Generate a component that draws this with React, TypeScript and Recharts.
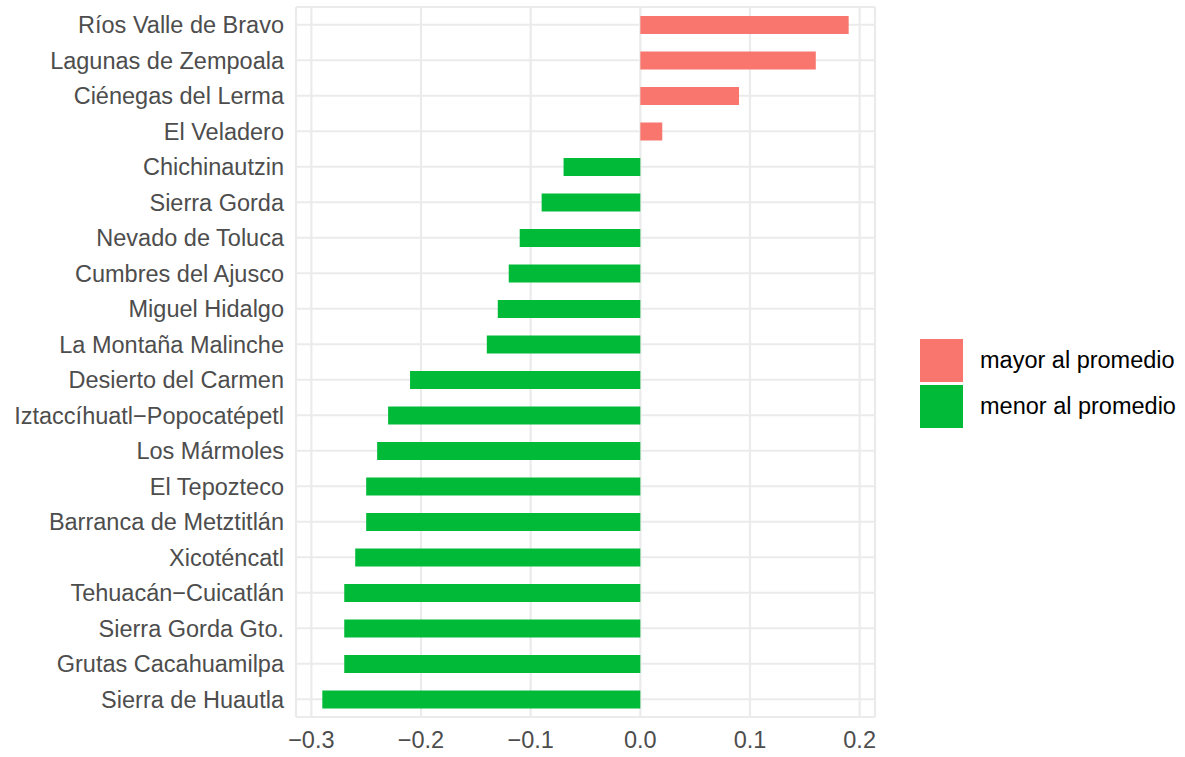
import React from 'react';
import {
  BarChart,
  Bar,
  Cell,
  XAxis,
  YAxis,
  CartesianGrid,
} from 'recharts';

// areas protegidas, ordered top to bottom as drawn
const areas = [
  'Ríos Valle de Bravo',
  'Lagunas de Zempoala',
  'Ciénegas del Lerma',
  'El Veladero',
  'Chichinautzin',
  'Sierra Gorda',
  'Nevado de Toluca',
  'Cumbres del Ajusco',
  'Miguel Hidalgo',
  'La Montaña Malinche',
  'Desierto del Carmen',
  'Iztaccíhuatl−Popocatépetl',
  'Los Mármoles',
  'El Tepozteco',
  'Barranca de Metztitlán',
  'Xicoténcatl',
  'Tehuacán−Cuicatlán',
  'Sierra Gorda Gto.',
  'Grutas Cacahuamilpa',
  'Sierra de Huautla',
];

const diffs = [
  0.19, 0.16, 0.09, 0.02, -0.07, -0.09, -0.11, -0.12, -0.13, -0.14,
  -0.21, -0.23, -0.24, -0.25, -0.25, -0.26, -0.27, -0.27, -0.27, -0.29,
];

const majorTicks = [-0.3, -0.2, -0.1, 0, 0.1, 0.2];
const minorTicks = [-0.25, -0.15, -0.05, 0.05, 0.15];

const groups = ['mayor al promedio', 'menor al promedio'];
const groupColors = ['#F8766D', '#00BA38'];

const data = areas.map((area, i) => ({ area, value: diffs[i] }));

const FONT = '"Liberation Sans", Arial, sans-serif';
const FS = 23.5;

const fmt = (v: number) => {
  const s = Math.abs(v).toFixed(1);
  return v < 0 ? `\u2212${s}` : s;
};

const LegendBox = () => (
  <div
    style={{
      position: 'absolute',
      left: 920,
      top: 339,
      fontFamily: FONT,
      fontSize: FS,
      color: '#000',
    }}
  >
    {groups.map((g, i) => (
      <div
        key={g}
        style={{ display: 'flex', alignItems: 'center', height: 43, marginBottom: i === 0 ? 3 : 0 }}
      >
        <div style={{ width: 43, height: 43, background: groupColors[i] }} />
        <span style={{ marginLeft: 17, whiteSpace: 'nowrap' }}>{g}</span>
      </div>
    ))}
  </div>
);

export default function App() {
  return (
    <div style={{ position: 'absolute', left: 0, top: 0, width: 1185, height: 757, background: '#fff' }}>
      <BarChart
        width={1185}
        height={757}
        data={data}
        layout="vertical"
        margin={{ top: 7, right: 310, bottom: 0, left: 0 }}
        barCategoryGap={0}
      >
        <CartesianGrid xAxisId="minor" horizontal={false} stroke="#EBEBEB" strokeWidth={1.1} />
        <CartesianGrid stroke="#EBEBEB" strokeWidth={2.2} />
        <XAxis
          xAxisId="minor"
          type="number"
          domain={[-0.314, 0.214]}
          ticks={minorTicks}
          hide
        />
        <XAxis
          type="number"
          domain={[-0.314, 0.214]}
          ticks={majorTicks}
          tickFormatter={fmt}
          axisLine={false}
          tickLine={false}
          tickSize={0}
          tickMargin={14}
          height={40}
          tick={{ fontFamily: FONT, fontSize: FS, fill: '#4D4D4D' }}
          allowDataOverflow
        />
        <YAxis
          type="category"
          dataKey="area"
          width={296}
          axisLine={false}
          tickLine={false}
          tickSize={0}
          tickMargin={12}
          interval={0}
          tick={{ fontFamily: FONT, fontSize: FS, fill: '#4D4D4D' }}
        />
        <Bar dataKey="value" barSize={18} isAnimationActive={false}>
          {data.map((d) => (
            <Cell key={d.area} fill={d.value > 0 ? groupColors[0] : groupColors[1]} />
          ))}
        </Bar>
      </BarChart>
      <LegendBox />
    </div>
  );
}
